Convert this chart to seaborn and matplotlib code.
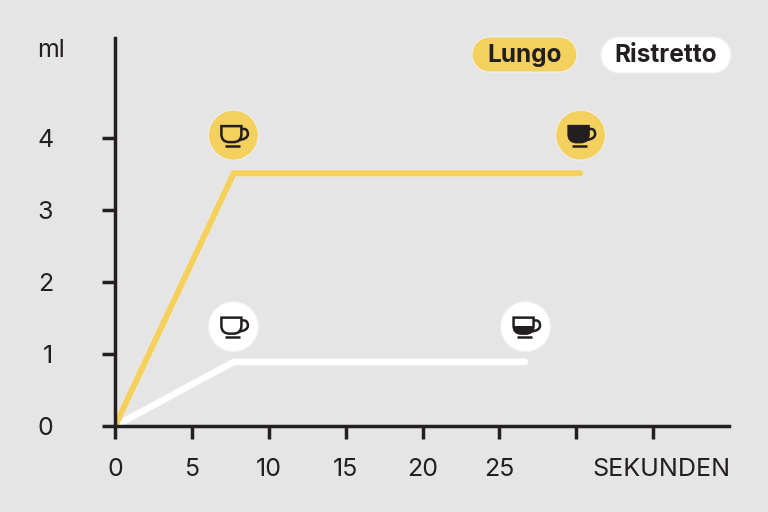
import numpy as np
import pandas as pd
import matplotlib
matplotlib.use("Agg")
import matplotlib.pyplot as plt
import matplotlib.patheffects as pe
from matplotlib.patches import Circle, PathPatch, Polygon, Rectangle
from matplotlib.path import Path
from matplotlib.transforms import Affine2D, ScaledTranslation
import seaborn as sns

seconds_lungo = [0, 7.72, 30.25]
ml_lungo = [0, 3.51, 3.51]
seconds_ristretto = [0, 7.72, 26.65]
ml_ristretto = [0, 0.89, 0.89]

x_ticks = [0, 5, 10, 15, 20, 25, 30, 35]
x_labels = ["0", "5", "10", "15", "20", "25", "", ""]
y_ticks = [0, 1, 2, 3, 4]

# where the cups sit: x, y, circle colour, how full the cup is
cup_x = [7.7, 30.28, 7.7, 26.7]
cup_y = [4.04, 4.04, 1.38, 1.38]
cup_colour = ["#F4D05E", "#F4D05E", "#FFFFFF", "#FFFFFF"]
cup_fill = [0, 1, 0, 0.5]

BG = "#E5E5E5"
DARK = "#231F20"
YELLOW = "#F4D05E"
WHITE = "#FFFFFF"
HALO = "#F0F0F0"

sns.set_theme(style="white")
plt.rcParams["font.family"] = ["Inter", "DejaVu Sans"]

df = pd.DataFrame({
    "sekunden": seconds_ristretto + seconds_lungo,
    "ml": ml_ristretto + ml_lungo,
    "kaffee": ["Ristretto"] * 3 + ["Lungo"] * 3,
})

fig = plt.figure(figsize=(7.68, 5.12), dpi=100, facecolor=BG)
ax = fig.add_axes([115 / 768, 86 / 512, 614 / 768, 388 / 512], facecolor=BG)

sns.lineplot(data=df, x="sekunden", y="ml", hue="kaffee", sort=False, legend=False,
             palette={"Ristretto": WHITE, "Lungo": YELLOW}, linewidth=4.5, ax=ax,
             estimator=None, clip_on=True)
for line in ax.get_lines():
    line.set_solid_capstyle("round")
    line.set_solid_joinstyle("miter")
    line.set_path_effects([pe.withStroke(linewidth=5.3, foreground=HALO)])

ax.set_xlim(0, 39.93)
ax.set_ylim(0, 5.389)
ax.set_xlabel("")
ax.set_ylabel("")
ax.set_xticks(x_ticks)
ax.set_xticklabels(x_labels)
ax.set_yticks(y_ticks)
ax.tick_params(axis="x", length=9.4, width=2.5, color=DARK, labelcolor=DARK, labelsize=18, pad=14, bottom=True)
ax.tick_params(axis="y", length=9.4, width=2.5, color=DARK, labelcolor=DARK, labelsize=18, pad=35, left=True)
sns.despine(ax=ax)
for side in ["left", "bottom"]:
    ax.spines[side].set_linewidth(2.5)
    ax.spines[side].set_color(DARK)

# pixel coordinates measured from the top left of the picture
px = Affine2D().scale(1, -1).translate(0, 512)
fig.text(65, 50.5, "ml", transform=px, ha="right", va="center", fontsize=18, color=DARK)
fig.text(730.5, 469, "SEKUNDEN", transform=px, ha="right", va="center", fontsize=18, color=DARK)


def pill(x0, x1, y0, y1, colour, label):
    r = (y1 - y0) / 2
    a = np.linspace(-np.pi / 2, np.pi / 2, 30)
    right = np.column_stack([x1 - r + r * np.cos(a), y0 + r + r * np.sin(a)])
    left = np.column_stack([x0 + r - r * np.cos(a[::-1]), y0 + r + r * np.sin(a[::-1])])
    fig.add_artist(Polygon(np.vstack([right, left]), closed=True, facecolor=colour,
                           edgecolor=HALO, linewidth=0.8, transform=px))
    fig.text((x0 + x1) / 2, (y0 + y1) / 2 + 1, label, transform=px, ha="center", va="center",
             fontsize=17.6, fontweight="bold", color=DARK)


pill(472, 577, 37, 72, YELLOW, "Lungo")
pill(601, 731, 37, 73, WHITE, "Ristretto")


def cup(x, y, colour, level):
    # icon is drawn in pixels around the point (x, y) of the data
    t = ScaledTranslation(x, y, ax.transData)
    ax.add_patch(Circle((0, 0), 25, facecolor=colour, edgecolor=HALO, linewidth=0.8,
                        transform=t, clip_on=False, zorder=5))
    body = Path([(-12, 9), (8, 9), (8, 1), (8, -7), (0, -7), (-4, -7), (-12, -7), (-12, 1), (-12, 9)],
                [Path.MOVETO, Path.LINETO, Path.LINETO, Path.CURVE3, Path.CURVE3,
                 Path.LINETO, Path.CURVE3, Path.CURVE3, Path.CLOSEPOLY])
    if level > 0:
        fill = PathPatch(body, facecolor=DARK, edgecolor="none", transform=t, clip_on=True, zorder=6)
        ax.add_patch(fill)
        fill.set_clip_path(Rectangle((-14, -8), 28, 18 * level, transform=t))
    ax.add_patch(PathPatch(body, facecolor="none", edgecolor=DARK, linewidth=1.8, transform=t,
                           clip_on=False, zorder=7))
    handle = Path([(8, 6), (14.5, 7.5), (14.5, 1), (14.5, -4), (5, -5)],
                  [Path.MOVETO, Path.CURVE3, Path.CURVE3, Path.CURVE3, Path.CURVE3])
    ax.add_patch(PathPatch(handle, facecolor="none", edgecolor=DARK, linewidth=1.8, transform=t,
                           clip_on=False, zorder=7))
    saucer = Path([(-8.5, -10.5), (6.5, -10.5)], [Path.MOVETO, Path.LINETO])
    ax.add_patch(PathPatch(saucer, facecolor="none", edgecolor=DARK, linewidth=1.8, transform=t,
                           clip_on=False, zorder=7))


for cx, cy, col, lev in zip(cup_x, cup_y, cup_colour, cup_fill):
    cup(cx, cy, col, lev)

fig.savefig("out.png", dpi=100, facecolor=BG)
